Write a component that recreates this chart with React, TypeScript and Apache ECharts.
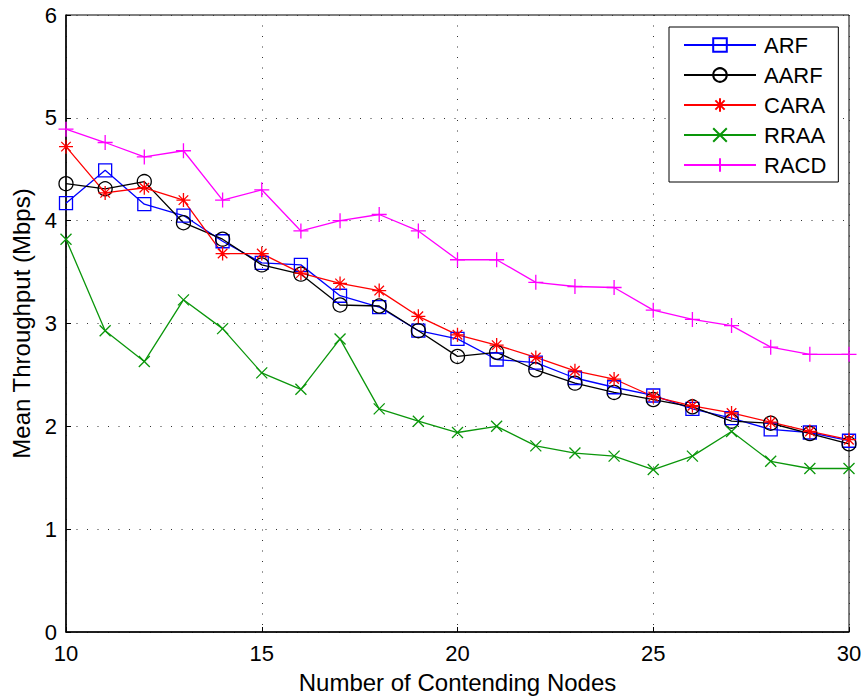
import React, { useEffect, useRef } from "react";
import * as echarts from "echarts";

const nodes = [10, 11, 12, 13, 14, 15, 16, 17, 18, 19, 20, 21, 22, 23, 24, 25, 26, 27, 28, 29, 30];
const arf = [4.17, 4.49, 4.16, 4.05, 3.80, 3.59, 3.57, 3.27, 3.16, 2.93, 2.85, 2.65, 2.62, 2.47, 2.38, 2.30, 2.17, 2.08, 1.97, 1.94, 1.86];
const aarf = [4.36, 4.31, 4.38, 3.98, 3.82, 3.57, 3.48, 3.18, 3.17, 2.93, 2.68, 2.72, 2.55, 2.42, 2.33, 2.26, 2.19, 2.05, 2.03, 1.93, 1.83];
const cara = [4.72, 4.27, 4.32, 4.20, 3.68, 3.68, 3.49, 3.39, 3.32, 3.07, 2.89, 2.79, 2.67, 2.54, 2.46, 2.29, 2.20, 2.13, 2.04, 1.95, 1.87];
const rraa = [3.82, 2.93, 2.63, 3.23, 2.95, 2.52, 2.36, 2.85, 2.17, 2.05, 1.94, 2.00, 1.81, 1.74, 1.71, 1.58, 1.71, 1.95, 1.66, 1.59, 1.59];
const racd = [4.89, 4.76, 4.62, 4.68, 4.20, 4.30, 3.90, 4.00, 4.06, 3.90, 3.62, 3.62, 3.40, 3.36, 3.35, 3.13, 3.04, 2.98, 2.77, 2.70, 2.70];

const seriesNames = ["ARF", "AARF", "CARA", "RRAA", "RACD"];
const xTitle = "Number of Contending Nodes";
const yTitle = "Mean Throughput (Mbps)";

const FONT = "'Liberation Sans', Arial, Helvetica, sans-serif";

const SYM_PLUS = "path://M5 0 L5 10 M0 5 L10 5";
const SYM_X = "path://M0 0 L10 10 M10 0 L0 10";
const SYM_STAR = "path://M5 0 L5 10 M0 5 L10 5 M1.6 1.6 L8.4 8.4 M8.4 1.6 L1.6 8.4";

export default function App() {
  const ref = useRef<HTMLDivElement>(null);
  useEffect(() => {
    if (!ref.current) return;
    const chart = echarts.init(ref.current, undefined, { renderer: "svg" });
    const cfg = [
      { name: seriesNames[0], data: arf, color: "#0000ff", symbol: "rect", size: 13 },
      { name: seriesNames[1], data: aarf, color: "#000000", symbol: "circle", size: 14 },
      { name: seriesNames[2], data: cara, color: "#ff0000", symbol: SYM_STAR, size: 14 },
      { name: seriesNames[3], data: rraa, color: "#0a960a", symbol: SYM_X, size: 11 },
      { name: seriesNames[4], data: racd, color: "#ff00ff", symbol: SYM_PLUS, size: 15 },
    ];
    chart.setOption({
      animation: false,
      backgroundColor: "#ffffff",
      grid: {
        left: 66,
        right: 17,
        top: 15,
        bottom: 68,
        show: true,
        borderColor: "#000",
        borderWidth: 1,
      },
      legend: {
        orient: "vertical",
        left: 669,
        top: 27,
        padding: [7, 12, 6, 14],
        itemWidth: 72,
        itemHeight: 17,
        itemGap: 8,
        backgroundColor: "#fff",
        borderColor: "#000",
        borderWidth: 1,
        borderRadius: 0,
        textStyle: { fontSize: 22, fontFamily: FONT, color: "#000", padding: [0, 0, 0, 3] },
        data: seriesNames,
      },
      xAxis: {
        type: "value",
        min: 10,
        max: 30,
        interval: 5,
        name: xTitle,
        nameLocation: "middle",
        nameGap: 38,
        nameTextStyle: { fontSize: 24, fontFamily: FONT, color: "#000" },
        axisLine: { show: true, onZero: false, lineStyle: { color: "#000", width: 1.5 } },
        axisTick: { show: true, inside: true, length: 5, lineStyle: { color: "#000" } },
        axisLabel: { fontSize: 22, fontFamily: FONT, color: "#000", margin: 10 },
        splitLine: { show: true, lineStyle: { color: "#333", width: 1, type: [1, 9.5] } },
      },
      yAxis: {
        type: "value",
        min: 0,
        max: 6,
        interval: 1,
        name: yTitle,
        nameLocation: "middle",
        nameGap: 32,
        nameTextStyle: { fontSize: 24, fontFamily: FONT, color: "#000" },
        axisLine: { show: true, lineStyle: { color: "#000", width: 1.5 } },
        axisTick: { show: true, inside: true, length: 5, lineStyle: { color: "#000" } },
        axisLabel: { fontSize: 22, fontFamily: FONT, color: "#000", margin: 9 },
        splitLine: { show: true, lineStyle: { color: "#333", width: 1, type: [1, 9.5] } },
      },
      series: cfg.map((c) => ({
        name: c.name,
        type: "line",
        data: nodes.map((x, i) => [x, c.data[i]]),
        symbol: c.symbol,
        symbolSize: c.size,
        showSymbol: true,
        lineStyle: { color: c.color, width: 1.3 },
        itemStyle: { color: "rgba(0,0,0,0)", borderColor: c.color, borderWidth: 1.3 },
        emphasis: { disabled: true },
      })),
    });
    return () => chart.dispose();
  }, []);
  return (
    <div
      ref={ref}
      style={{ position: "fixed", left: 0, top: 0, width: 866, height: 700 }}
    />
  );
}
